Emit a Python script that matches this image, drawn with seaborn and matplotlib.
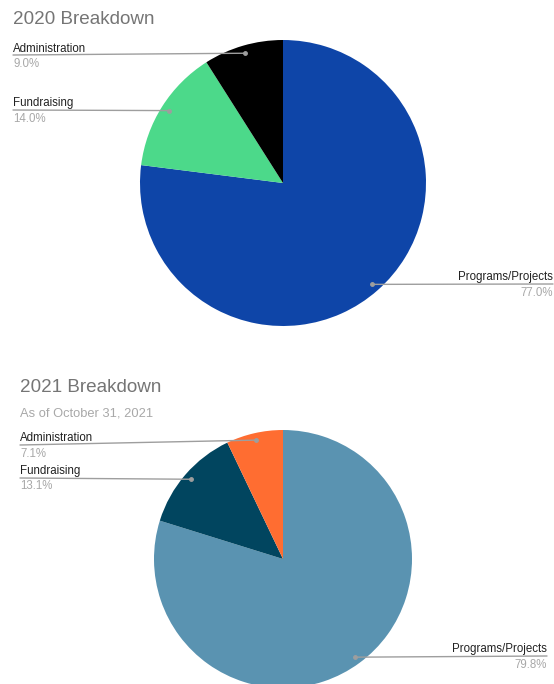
import numpy as np
import matplotlib
matplotlib.use("Agg")
import matplotlib.pyplot as plt
import seaborn as sns

sns.set_theme(style="white")
plt.rcParams["font.family"] = ["Liberation Sans", "DejaVu Sans"]

# ─── DATA ─────────────────────────────────────────────────────────────────────
categories = ["Programs/Projects", "Fundraising", "Administration"]
share_2020 = [77.0, 14.0, 9.0]
share_2021 = [79.8, 13.1, 7.1]
colors_2020 = ["#0E45A8", "#4CD98A", "#000000"]
colors_2021 = ["#5A93B1", "#01455F", "#FF6D31"]

W, H = 554, 684
fig = plt.figure(figsize=(W / 100, H / 100), dpi=100)
fig.patch.set_facecolor("white")

TITLE_C = "#757575"
LABEL_C = "#222222"
PCT_C = "#A8A8A8"
LINE_C = "#9E9E9E"


def px(x, y):
    # image pixel (top-left origin) -> figure fraction
    return x / W, 1 - y / H


def add_pie(cx, cy, r, values, colors):
    l, b = px(cx - r, cy + r)
    ax = fig.add_axes([l, b, 2 * r / W, 2 * r / H])
    ax.pie(values, colors=colors, startangle=90, counterclock=False,
           radius=1, wedgeprops=dict(linewidth=0))
    ax.set_xlim(-1, 1)
    ax.set_ylim(-1, 1)
    ax.set_aspect("auto")
    ax.axis("off")
    return ax


def slice_points(values, rad=0.945):
    pts = []
    start = 0.0
    total = sum(values)
    for v in values:
        mid = (start + v / 2) / total * 2 * np.pi
        pts.append((rad * np.sin(mid), rad * np.cos(mid)))
        start += v
    return pts


def leader(ax, pt, line_end, label, pct, text_x, base_lab, base_pct, ha):
    ax.annotate("", xy=pt, xycoords="data",
                xytext=(line_end[0], H - line_end[1]), textcoords="figure pixels",
                arrowprops=dict(arrowstyle="-", color=LINE_C, lw=1,
                                shrinkA=0, shrinkB=0))
    ax.plot(*pt, marker="o", ms=2.5, color=LINE_C, clip_on=False)
    fig.text(*px(text_x, base_lab), label, color=LABEL_C, fontsize=8.3,
             ha=ha, va="baseline")
    fig.text(*px(text_x, base_pct), pct, color=PCT_C, fontsize=8.3,
             ha=ha, va="baseline")


# ─── 2020 ─────────────────────────────────────────────────────────────────────
fig.text(*px(13, 24), "2020 Breakdown", color=TITLE_C, fontsize=13.6, va="baseline")
ax1 = add_pie(283, 183, 143, share_2020, colors_2020)
p1 = slice_points(share_2020)
leader(ax1, p1[0], (553, 284), categories[0], f"{share_2020[0]:.1f}%", 553, 280, 296, "right")
leader(ax1, p1[1], (13, 110), categories[1], f"{share_2020[1]:.1f}%", 13, 106, 122, "left")
leader(ax1, p1[2], (13, 55), categories[2], f"{share_2020[2]:.1f}%", 13, 52, 67, "left")

# ─── 2021 ─────────────────────────────────────────────────────────────────────
fig.text(*px(20, 392), "2021 Breakdown", color=TITLE_C, fontsize=13.6, va="baseline")
fig.text(*px(20, 416), "As of October 31, 2021", color=PCT_C, fontsize=9.3, va="baseline")
ax2 = add_pie(283, 559, 129, share_2021, colors_2021)
p2 = slice_points(share_2021)
leader(ax2, p2[0], (547, 656), categories[0], f"{share_2021[0]:.1f}%", 547, 652, 668, "right")
leader(ax2, p2[1], (20, 478), categories[1], f"{share_2021[1]:.1f}%", 20, 474, 489, "left")
leader(ax2, p2[2], (20, 445), categories[2], f"{share_2021[2]:.1f}%", 20, 441, 457, "left")

plt.savefig("out.png", dpi=100, facecolor="white")
plt.close()
